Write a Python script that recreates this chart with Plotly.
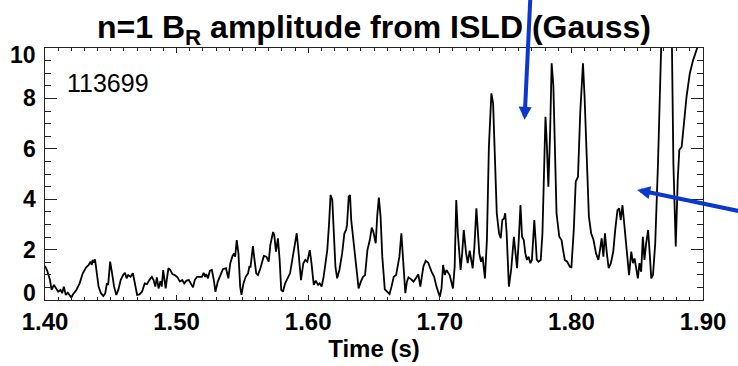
import plotly.graph_objects as go

# ---- data (time in s, amplitude in Gauss) ----
time_s = [
    1.4000, 1.4017, 1.4038, 1.4050, 1.4068, 1.4083, 1.4100, 1.4118, 1.4130, 1.4143,
    1.4158, 1.4173, 1.4188, 1.4200, 1.4212, 1.4238, 1.4263, 1.4287, 1.4313, 1.4332,
    1.4345, 1.4355, 1.4362, 1.4370, 1.4380, 1.4392, 1.4407, 1.4425, 1.4443, 1.4458,
    1.4470, 1.4480, 1.4495, 1.4508, 1.4525, 1.4542, 1.4557, 1.4575, 1.4593, 1.4608,
    1.4620, 1.4632, 1.4650, 1.4668, 1.4688, 1.4700, 1.4718, 1.4737, 1.4758, 1.4775,
    1.4793, 1.4812, 1.4825, 1.4838, 1.4850, 1.4863, 1.4878, 1.4887, 1.4898, 1.4908,
    1.4917, 1.4925, 1.4938, 1.4953, 1.4968, 1.4988, 1.5007, 1.5025, 1.5043, 1.5058,
    1.5075, 1.5093, 1.5108, 1.5125, 1.5138, 1.5155, 1.5175, 1.5193, 1.5205, 1.5217,
    1.5225, 1.5238, 1.5253, 1.5268, 1.5283, 1.5295, 1.5313, 1.5333, 1.5352, 1.5375,
    1.5393, 1.5408, 1.5425, 1.5438, 1.5445, 1.5457, 1.5470, 1.5483, 1.5493, 1.5508,
    1.5525, 1.5543, 1.5553, 1.5562, 1.5580, 1.5592, 1.5605, 1.5618, 1.5637, 1.5663,
    1.5682, 1.5700, 1.5712, 1.5733, 1.5742, 1.5755, 1.5770, 1.5783, 1.5795, 1.5808,
    1.5825, 1.5843, 1.5862, 1.5883, 1.5903, 1.5913, 1.5925, 1.5945, 1.5963, 1.5978,
    1.5993, 1.6003, 1.6012, 1.6025, 1.6042, 1.6057, 1.6075, 1.6087, 1.6102, 1.6117,
    1.6132, 1.6145, 1.6158, 1.6170, 1.6183, 1.6192, 1.6207, 1.6220, 1.6237, 1.6258,
    1.6275, 1.6288, 1.6295, 1.6308, 1.6318, 1.6327, 1.6342, 1.6363, 1.6383, 1.6400,
    1.6417, 1.6432, 1.6450, 1.6468, 1.6483, 1.6495, 1.6513, 1.6525, 1.6537, 1.6550,
    1.6563, 1.6582, 1.6600, 1.6618, 1.6633, 1.6650, 1.6668, 1.6683, 1.6693, 1.6708,
    1.6717, 1.6728, 1.6738, 1.6750, 1.6762, 1.6783, 1.6800, 1.6818, 1.6837, 1.6852,
    1.6867, 1.6875, 1.6893, 1.6912, 1.6938, 1.6957, 1.6975, 1.7000, 1.7013, 1.7025,
    1.7038, 1.7050, 1.7075, 1.7100, 1.7113, 1.7125, 1.7137, 1.7158, 1.7170, 1.7182,
    1.7200, 1.7212, 1.7227, 1.7238, 1.7250, 1.7263, 1.7278, 1.7287, 1.7300, 1.7313,
    1.7325, 1.7343, 1.7358, 1.7373, 1.7392, 1.7405, 1.7418, 1.7433, 1.7450, 1.7463,
    1.7475, 1.7488, 1.7497, 1.7508, 1.7525, 1.7542, 1.7563, 1.7575, 1.7587, 1.7600,
    1.7613, 1.7625, 1.7638, 1.7650, 1.7662, 1.7675, 1.7688, 1.7700, 1.7707, 1.7718,
    1.7728, 1.7737, 1.7750, 1.7767, 1.7780, 1.7793, 1.7803, 1.7812, 1.7825, 1.7838,
    1.7850, 1.7863, 1.7875, 1.7887, 1.7908, 1.7925, 1.7938, 1.7950, 1.7968, 1.7988,
    1.8000, 1.8018, 1.8033, 1.8050, 1.8067, 1.8088, 1.8100, 1.8118, 1.8133, 1.8150,
    1.8168, 1.8187, 1.8205, 1.8217, 1.8230, 1.8243, 1.8255, 1.8268, 1.8283, 1.8300,
    1.8318, 1.8333, 1.8350, 1.8363, 1.8375, 1.8388, 1.8400, 1.8412, 1.8425, 1.8438,
    1.8455, 1.8468, 1.8480, 1.8493, 1.8505, 1.8517, 1.8530, 1.8543, 1.8555, 1.8568,
    1.8583, 1.8595, 1.8607, 1.8620, 1.8637, 1.8658, 1.8670, 1.8682, 1.8703, 1.8740,
    1.8763, 1.8775, 1.8793, 1.8808, 1.8820, 1.8838, 1.8858, 1.8875, 1.8900, 1.8925,
    1.8955, 1.8985, 1.9000,
]
amp_gauss = [
    1.35, 1.16, 0.79, 0.40, 0.60, 0.46, 0.33, 0.40, 0.27, 0.53,
    0.20, 0.29, 0.20, 0.10, 0.22, 0.40, 0.66, 1.06, 1.30, 1.39,
    1.52, 1.39, 1.59, 1.48, 1.61, 1.12, 0.53, 0.27, 0.16, 0.27,
    0.66, 0.60, 1.52, 1.12, 0.53, 0.20, 0.40, 0.79, 0.99, 1.08,
    0.86, 0.99, 0.92, 1.06, 0.53, 0.20, 0.22, 0.33, 0.66, 0.63,
    0.79, 0.92, 0.79, 0.53, 0.90, 0.46, 0.75, 0.53, 1.19, 0.79,
    0.46, 0.79, 1.26, 1.19, 1.03, 0.98, 0.90, 0.73, 0.79, 0.66,
    0.77, 0.79, 0.66, 0.50, 0.79, 0.92, 0.92, 0.92, 1.08, 0.92,
    1.03, 0.86, 1.16, 1.19, 0.79, 0.33, 0.73, 0.99, 1.22, 1.26,
    0.86, 1.46, 1.75, 1.85, 1.72, 2.38, 1.85, 0.53, 0.20, 0.66,
    0.92, 1.06, 1.32, 1.32, 2.14, 1.59, 1.06, 0.99, 1.26, 1.75,
    1.72, 1.52, 2.18, 2.70, 2.58, 1.92, 2.45, 1.59, 0.40, 0.33,
    0.66, 0.86, 1.06, 1.72, 2.31, 2.65, 1.98, 0.79, 1.46, 1.59,
    1.52, 1.85, 1.98, 1.46, 0.60, 0.77, 0.60, 0.66, 0.53, 0.92,
    1.59, 1.98, 2.98, 4.17, 3.97, 2.78, 1.32, 0.86, 1.19, 1.85,
    2.65, 2.78, 2.98, 4.10, 4.17, 3.17, 2.45, 1.32, 0.46, 0.73,
    0.92, 0.99, 1.98, 2.38, 2.87, 2.71, 2.25, 3.37, 4.06, 3.30,
    1.72, 0.42, 0.33, 0.24, 0.53, 0.92, 0.99, 1.52, 1.72, 2.65,
    1.85, 0.73, 0.27, 0.73, 0.90, 0.82, 0.73, 0.86, 1.02, 0.53,
    1.19, 1.32, 1.56, 1.48, 1.12, 0.92, 0.53, 0.13, 0.46, 1.39,
    0.99, 1.19, 0.99, 0.46, 1.32, 3.97, 2.65, 1.19, 1.85, 2.78,
    1.85, 1.46, 1.96, 1.65, 1.26, 2.12, 3.64, 2.91, 1.85, 1.52,
    1.72, 0.86, 2.38, 6.08, 8.20, 7.80, 5.95, 3.44, 2.65, 2.45,
    3.17, 3.24, 3.44, 2.65, 0.53, 1.19, 2.51, 1.85, 1.26, 2.38,
    3.77, 2.51, 2.38, 1.85, 1.59, 1.72, 1.46, 1.59, 2.38, 3.17,
    2.38, 1.59, 1.52, 1.59, 2.65, 5.82, 7.27, 6.35, 4.50, 6.61,
    9.39, 8.50, 5.55, 3.44, 2.51, 2.38, 1.95, 1.59, 1.52, 1.32,
    1.30, 2.78, 4.70, 4.89, 7.41, 9.39, 8.07, 5.16, 3.31, 2.65,
    2.38, 1.85, 1.59, 1.98, 2.45, 1.72, 2.65, 1.92, 1.26, 1.46,
    1.92, 2.78, 3.57, 3.64, 3.17, 3.77, 3.17, 2.51, 1.72, 0.99,
    1.92, 1.46, 1.65, 1.19, 0.86, 1.46, 1.12, 2.51, 1.59, 2.25,
    2.78, 1.85, 0.86, 0.99, 2.25, 5.42, 8.07, 10.2, 14.0, 15.0,
    10.5, 5.42, 2.12, 4.76, 5.95, 6.08, 7.14, 8.07, 9.00, 9.52,
    9.99, 10.2, 10.4,
]

x_tick_vals = [1.40, 1.50, 1.60, 1.70, 1.80, 1.90]
x_tick_text = ["1.40", "1.50", "1.60", "1.70", "1.80", "1.90"]
y_tick_vals = [0, 2, 4, 6, 8, 10]
y_tick_text = ["0", "2", "4", "6", "8", "10"]

shot_label = "113699"
title_text = "n=1 B<sub>R</sub> amplitude from ISLD (Gauss)"
x_title = "Time (s)"

# arrows: tip and tail in data coordinates (tails lie outside the axes)
arrow_tip_t = [1.7644, 1.8500]
arrow_tip_v = [7.15, 4.37]
arrow_tail_t = [1.7690, 1.9300]
arrow_tail_v = [12.2, 3.50]

FONT = "Liberation Sans, Arial, Helvetica, sans-serif"
BLUE = "#0a37cf"

fig = go.Figure()
fig.add_trace(go.Scatter(
    x=time_s, y=amp_gauss, mode="lines",
    line=dict(color="black", width=1.8),
    hoverinfo="skip", showlegend=False,
))

axis_common = dict(
    showline=True, linecolor="#222", linewidth=1.3, mirror="ticks",
    ticks="inside", tickcolor="#222", showgrid=False, zeroline=False,
)

fig.update_xaxes(
    range=[1.40, 1.90], tickvals=x_tick_vals, ticktext=x_tick_text,
    ticklen=5, tickwidth=1.2,
    minor=dict(ticks="inside", dtick=0.01, tick0=1.40, ticklen=3, tickcolor="#222", tickwidth=1),
    tickfont=dict(family=FONT, size=24, color="black", weight="bold"),
    title=dict(text=x_title, font=dict(family=FONT, size=24, color="black", weight="bold"), standoff=0),
    **axis_common,
)
fig.update_yaxes(
    range=[0, 10], tickvals=y_tick_vals, showticklabels=False,
    ticklen=12, tickwidth=1.2,
    minor=dict(ticks="inside", dtick=0.5, tick0=0, ticklen=6, tickcolor="#222", tickwidth=1),
    **axis_common,
)

annotations = []
for v, t in zip(y_tick_vals, y_tick_text):
    shift = 0
    if v == y_tick_vals[0]:
        shift = 7
    elif v == y_tick_vals[-1]:
        shift = -7
    annotations.append(dict(
        xref="paper", yref="y", x=0, y=v, text=t, showarrow=False,
        xanchor="right", yanchor="middle", xshift=-7, yshift=shift,
        font=dict(family=FONT, size=23, color="black", weight="bold"),
    ))

annotations.append(dict(
    xref="paper", yref="paper", x=0.031, y=0.86, text=shot_label, showarrow=False,
    xanchor="left", yanchor="middle",
    font=dict(family=FONT, size=25, color="black"),
))

for tx, ty, ax, ay in zip(arrow_tip_t, arrow_tip_v, arrow_tail_t, arrow_tail_v):
    annotations.append(dict(
        xref="x", yref="y", x=tx, y=ty, axref="x", ayref="y", ax=ax, ay=ay, text="",
        showarrow=True, arrowhead=2, arrowsize=0.65, arrowwidth=4,
        arrowcolor=BLUE,
    ))

fig.update_layout(
    width=738, height=366,
    margin=dict(l=45, r=26, t=48, b=66),
    paper_bgcolor="white", plot_bgcolor="white",
    title=dict(text=title_text, x=0.5, xref="paper", y=1 - 27 / 366, yref="container",
               xanchor="center", yanchor="middle",
               font=dict(family=FONT, size=32, color="black", weight="bold")),
    annotations=annotations,
)

fig.write_html("out.html")
